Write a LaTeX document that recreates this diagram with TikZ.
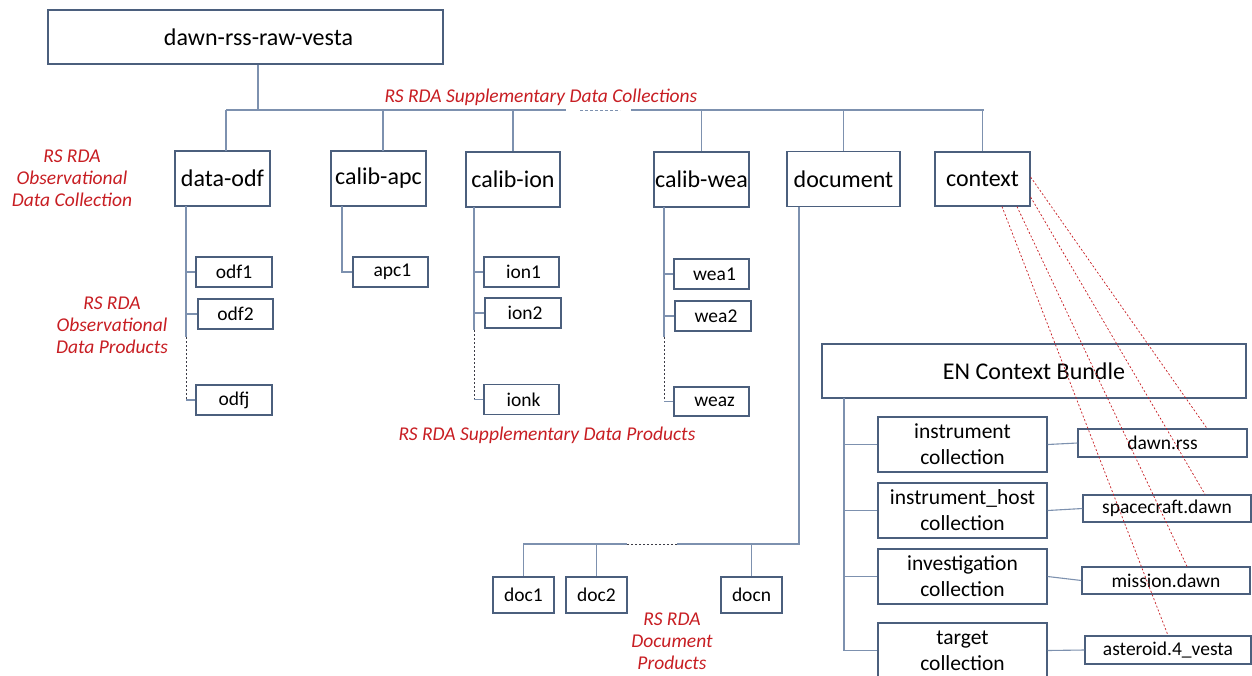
\documentclass[tikz,border=0pt]{standalone}
\usepackage{fontspec}
\setmainfont{Carlito}
\usetikzlibrary{calc}
\definecolor{boxc}{RGB}{75,95,125}
\definecolor{linec}{RGB}{125,145,175}
\definecolor{lred}{RGB}{200,30,35}
\definecolor{dotc}{RGB}{60,60,70}
\tikzset{
  box/.style={draw=boxc, line width=1.2pt, fill=white, inner sep=0pt, font=\fontsize{24}{26}\selectfont},
  item/.style={box, font=\fontsize{19.5}{22}\selectfont},
  coll/.style={box, align=center, font=\fontsize{21.5}{26}\selectfont},
  conn/.style={draw=linec, line width=1.1pt},
  dotted conn/.style={draw=dotc, line width=0.8pt, dash pattern=on 2pt off 2pt},
  lbl/.style={text=lred, font=\fontsize{19.5}{22}\selectfont\itshape, align=center, inner sep=0pt},
  reddash/.style={draw=lred, line width=0.7pt, dash pattern=on 2pt off 2pt},
}
\begin{document}
\begin{tikzpicture}[x=1pt,y=-1pt]
\fill[white] (0,0) rectangle (1252,675);
\clip (0,0) rectangle (1252,675);
% top
\node[box, minimum width=395, minimum height=54] (top) at (245.5,37) {\hspace*{26pt}dawn-rss-raw-vesta};
% level 2
\node[box, minimum width=95, minimum height=55] (dodf) at (222.5,178.5) {data-odf};
\node[box, minimum width=95, minimum height=55] (capc) at (378.5,178.5) {calib-apc};
\node[box, minimum width=94, minimum height=55] (cion) at (513,179.5) {calib-ion};
\node[box, minimum width=95, minimum height=55] (cwea) at (701.5,179.5) {calib-wea};
\node[box, minimum width=113, minimum height=55] (doc) at (843.5,179) {document};
\node[box, minimum width=95, minimum height=54] (ctx) at (982.5,179) {context};
% bus
\coordinate (bus) at (258,110);
\draw[conn] (top.south -| bus) -- (bus);
\draw[conn] (226,110) -- (566,110);
\draw[draw=linec, line width=1pt, dash pattern=on 2.5pt off 2.5pt] (580,110) -- (620,110);
\draw[conn] (631,110) -- (984,110);
\draw[conn] (226,110) -- (226,151);
\draw[conn] (383,110) -- (383,151);
\draw[conn] (cion.north |- bus) -- (cion.north);
\draw[conn] (cwea.north |- bus) -- (cwea.north);
\draw[conn] (doc.north |- bus) -- (doc.north);
\draw[conn] (ctx.north |- bus) -- (ctx.north);
% odf
\node[item, minimum width=76, minimum height=30] (odf1) at (234,272) {odf1};
\node[item, minimum width=75, minimum height=30] (odf2) at (235.5,314) {odf2};
\node[item, minimum width=76, minimum height=30] (odfj) at (234,400) {odfj};
\coordinate (s1) at (186,206);
\draw[conn] (s1) |- (odf1.west);
\draw[conn] (s1) |- (odf2.west);
\draw[conn] (s1 |- odf2.west) -- (186,337);
\draw[dotted conn] (186,337) -- (s1 |- odfj.west);
\draw[conn] (s1 |- odfj.west) -- (odfj.west);
% apc
\node[item, minimum width=75, minimum height=30] (apc1) at (390.5,272) {\hspace*{4pt}apc1};
\coordinate (s2) at (342,206);
\draw[conn] (s2) |- (apc1.west);
% ion
\node[item, minimum width=75, minimum height=30] (ion1) at (521.5,272) {\hspace*{4pt}ion1};
\node[item, minimum width=76, minimum height=30] (ion2) at (523,313) {\hspace*{4pt}ion2};
\node[item, minimum width=75, minimum height=30] (ionk) at (521.5,399.5) {\hspace*{4pt}ionk};
\coordinate (s3) at (474,207);
\draw[conn] (s3) |- (ion1.west);
\draw[conn] (s3) |- (ion2.west);
\draw[conn] (s3 |- ion2.west) -- (474,330);
\draw[dotted conn] (474,330) -- (s3 |- ionk.west);
\draw[conn] (s3 |- ionk.west) -- (ionk.west);
% wea
\node[item, minimum width=75, minimum height=30] (wea1) at (711.5,274) {\hspace*{6pt}wea1};
\node[item, minimum width=76, minimum height=30] (wea2) at (713,316) {\hspace*{6pt}wea2};
\node[item, minimum width=75, minimum height=29] (weaz) at (711.5,401.5) {\hspace*{6pt}weaz};
\coordinate (s4) at (664,207);
\draw[conn] (s4) |- (wea1.west);
\draw[conn] (s4) |- (wea2.west);
\draw[conn] (s4 |- wea2.west) -- (664,337);
\draw[dotted conn] (664,337) -- (s4 |- weaz.west);
\draw[conn] (s4 |- weaz.west) -- (weaz.west);
% documents
\node[item, minimum width=61, minimum height=36] (doc1) at (523.5,595) {doc1};
\node[item, minimum width=61, minimum height=36] (doc2) at (596.5,595) {doc2};
\node[item, minimum width=61, minimum height=36] (docn) at (751.5,595) {docn};
\coordinate (s5) at (799,206.5);
\coordinate (dbus) at (799,544);
\draw[conn] (s5) -- (dbus) -- (677,544);
\draw[dotted conn] (677,544) -- (627,544);
\draw[conn] (627,544) -- (doc1.north |- dbus) -- (doc1.north);
\draw[conn] (doc2.north |- dbus) -- (doc2.north);
\draw[conn] (docn.north |- dbus) -- (docn.north);
% EN context bundle
\node[box, minimum width=424, minimum height=54] (bund) at (1034,371) {EN Context Bundle};
\node[coll, minimum width=169, minimum height=55] (cinst) at (962.5,444.5) {instrument\\collection};
\node[coll, minimum width=169, minimum height=55] (chost) at (962.5,510.5) {instrument\_host\\collection};
\node[coll, minimum width=169, minimum height=55] (cinv) at (962.5,576.5) {investigation\\collection};
\node[coll, minimum width=169, minimum height=55] (ctar) at (962.5,650.5) {target\\collection};
\node[item, minimum width=169, minimum height=28] (irss) at (1162.5,443) {dawn.rss};
\node[item, minimum width=168, minimum height=27] (isc) at (1167,508.5) {spacecraft.dawn};
\node[item, minimum width=168, minimum height=27] (imis) at (1166,580.5) {mission.dawn};
\node[item, minimum width=166, minimum height=28] (iast) at (1168,650) {asteroid.4\_vesta};
\coordinate (s6) at (844,398);
\draw[conn] (s6) |- (cinst.west);
\draw[conn] (s6) |- (chost.west);
\draw[conn] (s6) |- (cinv.west);
\draw[conn] (s6) |- (ctar.west);
\draw[conn] (cinst.east) -- (irss.west);
\draw[conn] (chost.east) -- (isc.west);
\draw[conn] (cinv.east) -- (imis.west);
\draw[conn] (ctar.east) -- (iast.west);
% red dashed references
\draw[reddash] ([yshift=2pt]ctx.east) -- ([xshift=44.5pt]irss.north);
\draw[reddash] ([yshift=-18pt]ctx.east) -- ([xshift=38pt]isc.north);
\draw[reddash] ([xshift=34.5pt]ctx.south) -- ([xshift=21pt]imis.north);
\draw[reddash] ([xshift=19.5pt]ctx.south) -- ([xshift=0pt]iast.north);
% labels
\node[lbl] (l1) at (541,97) {RS RDA Supplementary Data Collections};
\node[lbl] (l2) at (72,178) {RS RDA\\Observational\\Data Collection};
\node[lbl] (l3) at (112,325) {RS RDA\\Observational\\Data Products};
\node[lbl] (l4) at (547,435) {RS RDA Supplementary Data Products};
\node[lbl] (l5) at (672,641) {RS RDA\\Document\\Products};
\end{tikzpicture}
\end{document}
